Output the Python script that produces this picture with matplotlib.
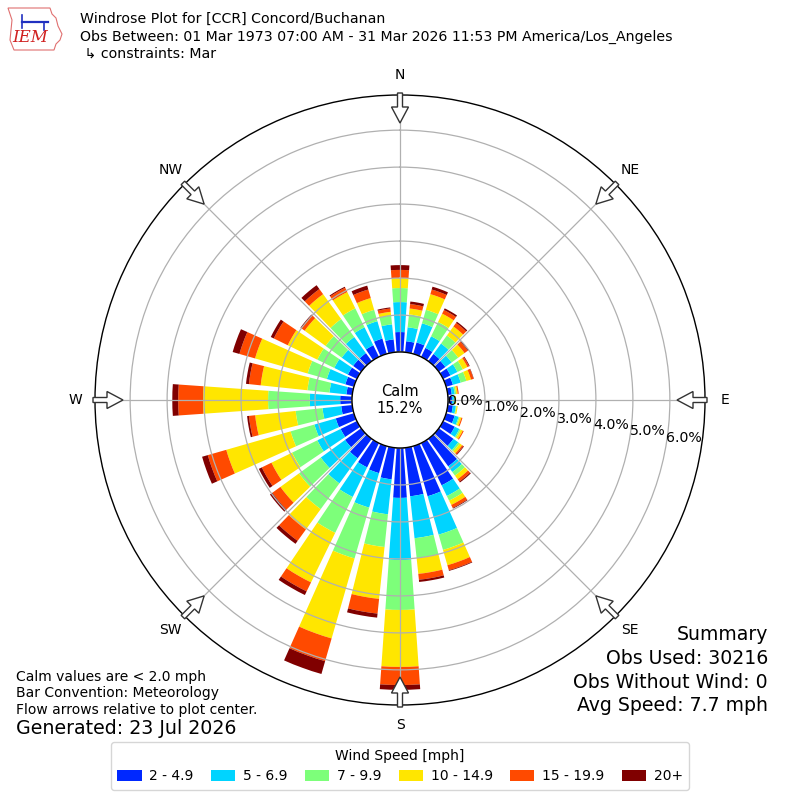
import numpy as np
import matplotlib
matplotlib.use("Agg")
import matplotlib.pyplot as plt
import matplotlib.patches as mpatches

# ---- data (percent of observations) ----
directions = np.arange(0, 360, 10)
speed_labels = ["2 - 4.9", "5 - 6.9", "7 - 9.9", "10 - 14.9", "15 - 19.9", "20+"]
colors = ["#0028ff", "#00d4ff", "#7dff7a", "#ffe600", "#ff4a00", "#800000"]

s2_5 = [0.54, 0.30, 0.32, 0.27, 0.24, 0.22, 0.22, 0.19, 0.11, 0.11, 0.14, 0.24,
        0.35, 0.49, 0.92, 1.27, 1.41, 1.32, 1.35, 0.86, 0.76, 0.73, 0.65, 0.54,
        0.49, 0.51, 0.30, 0.32, 0.16, 0.24, 0.27, 0.27, 0.27, 0.35, 0.43, 0.35]
s5_7 = [0.81, 0.38, 0.54, 0.35, 0.35, 0.21, 0.21, 0.22, 0.08, 0.05, 0.08, 0.11,
        0.14, 0.16, 0.19, 0.32, 1.08, 1.14, 1.68, 0.95, 0.97, 0.89, 0.84, 0.81,
        0.70, 0.60, 0.51, 0.82, 0.46, 0.52, 0.41, 0.38, 0.54, 0.54, 0.49, 0.41]
s7_10 = [0.38, 0.35, 0.38, 0.43, 0.27, 0.22, 0.16, 0.16, 0.04, 0.03, 0.02, 0.03,
         0.04, 0.05, 0.12, 0.14, 0.43, 0.54, 1.35, 0.89, 1.43, 1.08, 0.86, 0.73,
         0.76, 0.67, 0.73, 1.13, 0.60, 0.54, 0.51, 0.54, 0.60, 0.57, 0.32, 0.24]
s10_15 = [0.27, 0.16, 0.44, 0.25, 0.30, 0.21, 0.14, 0.13, 0.04, 0.03, 0.03, 0.05,
          0.06, 0.08, 0.12, 0.13, 0.43, 0.43, 1.54, 1.41, 2.25, 1.49, 0.68, 0.62,
          0.62, 1.81, 1.10, 1.76, 1.27, 1.48, 0.89, 0.70, 0.83, 0.49, 0.33, 0.10]
s15_20 = [0.22, 0.12, 0.13, 0.11, 0.12, 0.11, 0.05, 0.07, 0.03, 0.00, 0.00, 0.03,
          0.03, 0.04, 0.08, 0.09, 0.14, 0.16, 0.49, 0.40, 0.64, 0.27, 0.38, 0.27,
          0.29, 0.52, 0.17, 0.67, 0.32, 0.44, 0.42, 0.11, 0.17, 0.13, 0.24, 0.09]
s20p = [0.13, 0.07, 0.08, 0.05, 0.04, 0.03, 0.02, 0.01, 0.00, 0.00, 0.00, 0.00,
        0.00, 0.02, 0.03, 0.02, 0.02, 0.06, 0.13, 0.11, 0.36, 0.11, 0.10, 0.08,
        0.09, 0.16, 0.05, 0.16, 0.08, 0.19, 0.09, 0.03, 0.13, 0.03, 0.11, 0.03]
series = [s2_5, s5_7, s7_10, s10_15, s15_20, s20p]

rticks = [0, 1, 2, 3, 4, 5, 6]
calm_pct = 15.2
compass = ["N", "NE", "E", "SE", "S", "SW", "W", "NW"]
compass_deg = [0, 45, 90, 135, 180, 225, 270, 315]

# ---- figure ----
fig = plt.figure(figsize=(8, 8), dpi=100)
W = 800.0
ax = fig.add_axes([95 / W, 95 / W, 610 / W, 610 / W], projection="polar")
ax.set_theta_zero_location("N")
ax.set_theta_direction(-1)

theta = np.deg2rad(directions)
width = np.deg2rad(8.0)
bottom = np.zeros(len(directions))
for vals, col, lab in zip(series, colors, speed_labels):
    v = np.array(vals)
    ax.bar(theta, v, width=width, bottom=bottom, color=col, label=lab,
           linewidth=0, align="center", zorder=1)
    bottom = bottom + v

rmax = 6.95
ax.set_ylim(0, rmax)
ax.set_rorigin(-48.0 / 37.0)
ax.set_axisbelow(False)
ax.set_yticks(rticks)
ax.set_yticklabels([f"{t:.1f}%" for t in rticks], fontsize=10.2)
ax.set_rlabel_position(99.5)
ax.set_xticks(np.deg2rad(compass_deg))
ax.set_xticklabels([])
ax.grid(True, color="#b0b0b0", linewidth=0.9)
ax.spines["polar"].set_linewidth(1.0)
ax.spines["polar"].set_color("black")

# calm circle
calm = mpatches.Circle((0.5, 0.5), 48 / 610.0, transform=ax.transAxes,
                       facecolor="white", edgecolor="black", linewidth=1.0,
                       zorder=5, clip_on=False)
ax.add_patch(calm)
ax.text(0.5, 0.5, f"Calm\n{calm_pct:.1f}%", transform=ax.transAxes,
        ha="center", va="center", fontsize=10.5, zorder=6, linespacing=1.15)

# compass labels and flow arrows
for lab, d in zip(compass, compass_deg):
    a = np.deg2rad(d)
    rl = 325 / 610.0
    ax.text(0.5 + rl * np.sin(a), 0.5 + rl * np.cos(a), lab, transform=ax.transAxes,
            ha="center", va="center", fontsize=10)
    r0 = 307 / 610.0
    L = 30 / 610.0
    x0 = 0.5 + r0 * np.sin(a)
    y0 = 0.5 + r0 * np.cos(a)
    arr = mpatches.FancyArrow(x0, y0, -L * np.sin(a), -L * np.cos(a),
                              width=5 / 610.0, head_width=17 / 610.0,
                              head_length=16 / 610.0, length_includes_head=True,
                              transform=ax.transAxes, facecolor="white",
                              edgecolor="#333333", linewidth=1.0, clip_on=False,
                              zorder=7)
    ax.add_patch(arr)

# header
def fy(py):
    return 1 - py / W

fig.text(80 / W, fy(19), "Windrose Plot for [CCR] Concord/Buchanan", fontsize=10.15, va="center")
fig.text(80 / W, fy(37), "Obs Between: 01 Mar 1973 07:00 AM - 31 Mar 2026 11:53 PM America/Los_Angeles",
         fontsize=10.15, va="center")
fig.text(80 / W, fy(54), " \u21b3 constraints: Mar", fontsize=10.15, va="center")

# simple logo
logo_x = [8, 50, 52, 56, 58, 62, 60, 56, 54, 14, 10, 12, 8]
logo_y = [8, 8, 14, 18, 26, 34, 40, 44, 50, 50, 40, 20, 8]
fig.add_artist(plt.Polygon([(x / W, fy(y)) for x, y in zip(logo_x, logo_y)],
                           closed=True, fill=False, edgecolor="#e07070",
                           linewidth=0.8, transform=fig.transFigure))
fig.add_artist(plt.Line2D([22 / W, 48 / W], [fy(22), fy(22)], color="#2030c0", lw=1.6))
fig.add_artist(plt.Line2D([22 / W, 22 / W], [fy(15), fy(28)], color="#2030c0", lw=1.2))
fig.add_artist(plt.Line2D([44 / W, 44 / W], [fy(22), fy(30)], color="#2030c0", lw=1.2))
fig.text(30 / W, fy(38), "IEM", color="#d02020", fontsize=12, style="italic",
         family="DejaVu Serif", ha="center", va="center")

# bottom-left notes
fig.text(16 / W, fy(677), "Calm values are < 2.0 mph", fontsize=10, va="center")
fig.text(16 / W, fy(693), "Bar Convention: Meteorology", fontsize=10, va="center")
fig.text(16 / W, fy(710), "Flow arrows relative to plot center.", fontsize=10, va="center")
fig.text(16 / W, fy(729), "Generated: 23 Jul 2026", fontsize=13.7, va="center")

# summary
summ = ["Summary", "Obs Used: 30216", "Obs Without Wind: 0", "Avg Speed: 7.7 mph"]
for i, s in enumerate(summ):
    fig.text(768 / W, fy(635 + 23.5 * i), s, fontsize=13.6, ha="right", va="center")

# legend
handles, labels = ax.get_legend_handles_labels()
leg = fig.legend(handles, labels, loc="center", bbox_to_anchor=(0.5, fy(766)),
                 ncol=6, fontsize=10, title="Wind Speed [mph]", title_fontsize=10,
                 handlelength=1.75, handleheight=0.8, columnspacing=1.25,
                 handletextpad=0.55, frameon=True, borderpad=0.45)

fig.savefig("out.png", dpi=100)
